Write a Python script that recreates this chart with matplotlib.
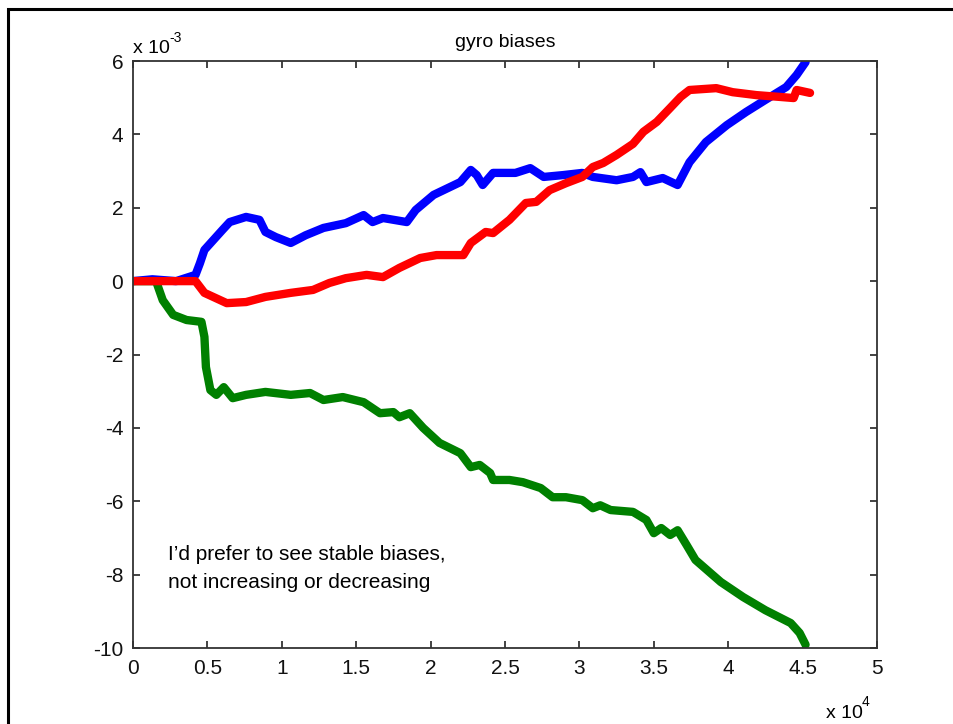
import matplotlib
matplotlib.use("Agg")
import matplotlib.pyplot as plt
from matplotlib.patches import Rectangle

plt.rcParams['font.family'] = ['Liberation Sans', 'DejaVu Sans']

# x in units of 1e4 samples, y in units of 1e-3
blue_x = [0, 0.13, 0.29, 0.42, 0.45, 0.48, 0.54, 0.60, 0.65, 0.76,
          0.85, 0.89, 0.96, 1.06, 1.16, 1.28, 1.43, 1.55, 1.61, 1.68,
          1.84, 1.90, 2.02, 2.20, 2.27, 2.31, 2.35, 2.42, 2.57, 2.67,
          2.76, 2.89, 3.02, 3.09, 3.25, 3.36, 3.41, 3.45, 3.56, 3.66,
          3.74, 3.85, 3.99, 4.12, 4.25, 4.39, 4.46, 4.52]
blue_y = [0, 0.05, 0.0, 0.17, 0.49, 0.85, 1.12, 1.39, 1.61, 1.75,
          1.67, 1.34, 1.20, 1.04, 1.25, 1.45, 1.58, 1.80, 1.61, 1.72,
          1.61, 1.94, 2.35, 2.70, 3.03, 2.89, 2.62, 2.95, 2.95, 3.08,
          2.84, 2.89, 2.95, 2.84, 2.75, 2.84, 2.97, 2.70, 2.81, 2.62,
          3.24, 3.79, 4.25, 4.61, 4.94, 5.29, 5.62, 5.97]

red_x = [0, 0.42, 0.48, 0.63, 0.76, 0.89, 1.06, 1.21, 1.32, 1.43,
         1.57, 1.68, 1.79, 1.93, 2.04, 2.22, 2.27, 2.37, 2.42, 2.53,
         2.64, 2.71, 2.80, 2.91, 3.02, 3.09, 3.16, 3.25, 3.36, 3.43,
         3.52, 3.61, 3.68, 3.74, 3.92, 4.03, 4.19, 4.35, 4.44, 4.46,
         4.55]
red_y = [0, 0, -0.32, -0.60, -0.57, -0.43, -0.32, -0.24, -0.05, 0.08,
         0.17, 0.11, 0.36, 0.63, 0.71, 0.71, 1.04, 1.34, 1.31, 1.67,
         2.13, 2.16, 2.48, 2.67, 2.84, 3.11, 3.22, 3.44, 3.74, 4.07,
         4.34, 4.72, 5.02, 5.21, 5.26, 5.15, 5.07, 5.02, 4.99, 5.21,
         5.13]

green_x = [0, 0.155, 0.20, 0.27, 0.36, 0.46, 0.48, 0.49, 0.52, 0.56,
           0.61, 0.67, 0.76, 0.89, 1.06, 1.19, 1.28, 1.41, 1.55, 1.66,
           1.75, 1.79, 1.86, 1.95, 2.06, 2.20, 2.27, 2.33, 2.40, 2.42,
           2.53, 2.62, 2.74, 2.82, 2.91, 3.02, 3.09, 3.14, 3.21, 3.36,
           3.45, 3.50, 3.55, 3.61, 3.66, 3.72, 3.78, 3.95, 4.10, 4.25,
           4.42, 4.48, 4.52]
green_y = [0, 0, -0.52, -0.92, -1.06, -1.11, -1.52, -2.34, -2.97, -3.10,
           -2.89, -3.19, -3.10, -3.02, -3.10, -3.05, -3.24, -3.16, -3.30, -3.60,
           -3.57, -3.71, -3.60, -4.00, -4.41, -4.69, -5.07, -5.01, -5.23, -5.42,
           -5.42, -5.48, -5.64, -5.89, -5.89, -5.97, -6.19, -6.11, -6.24, -6.29,
           -6.51, -6.87, -6.73, -6.92, -6.79, -7.19, -7.60, -8.20, -8.61, -8.97,
           -9.32, -9.59, -9.91]

x_ticks = [0, 0.5, 1, 1.5, 2, 2.5, 3, 3.5, 4, 4.5, 5]
x_tick_labels = ['0', '0.5', '1', '1.5', '2', '2.5', '3', '3.5', '4', '4.5', '5']
y_ticks = [-10, -8, -6, -4, -2, 0, 2, 4, 6]
y_tick_labels = ['-10', '-8', '-6', '-4', '-2', '0', '2', '4', '6']

W, H = 954, 724
fig = plt.figure(figsize=(W / 100, H / 100), dpi=100)
ax = fig.add_axes([133 / W, 1 - 648 / H, (877 - 133) / W, (648 - 61) / H])

lw = 6.0
ax.plot(blue_x, blue_y, color='#0000ff', lw=lw, solid_capstyle='round', solid_joinstyle='round')
ax.plot(green_x, green_y, color='#008000', lw=lw, solid_capstyle='round', solid_joinstyle='round')
ax.plot(red_x, red_y, color='#ff0000', lw=lw, solid_capstyle='round', solid_joinstyle='round')

ax.set_xlim(0, 5)
ax.set_ylim(-10, 6)
ax.set_xticks(x_ticks)
ax.set_xticklabels(x_tick_labels)
ax.set_yticks(y_ticks)
ax.set_yticklabels(y_tick_labels)
ax.tick_params(direction='in', length=5, width=1.2, labelsize=15, color='#222222',
               labelcolor='#111111', top=True, right=True, pad=7)
ax.tick_params(axis='x', pad=8)
for s in ax.spines.values():
    s.set_linewidth(1.3)
    s.set_color('#333333')

ax.set_title('gyro biases', fontsize=14, pad=10)

# offset labels
fig.text(133 / W, 1 - 53 / H, 'x 10', fontsize=14, ha='left', va='baseline')
fig.text(169 / W, 1 - 42 / H, '-3', fontsize=10, ha='left', va='baseline')
fig.text(826 / W, 1 - 718 / H, 'x 10', fontsize=14, ha='left', va='baseline')
fig.text(862 / W, 1 - 706 / H, '4', fontsize=10, ha='left', va='baseline')

ax.text(0.235, -7.82, 'I\u2019d prefer to see stable biases,\nnot increasing or decreasing',
        fontsize=15, ha='left', va='center', linespacing=1.6)

# slide frame
fig.patches.append(Rectangle((8.5 / W, -0.5), 2, 1.5 - 8.5 / H, transform=fig.transFigure,
                             fill=False, edgecolor='black', linewidth=2.2))

fig.savefig('out.png', dpi=100)
